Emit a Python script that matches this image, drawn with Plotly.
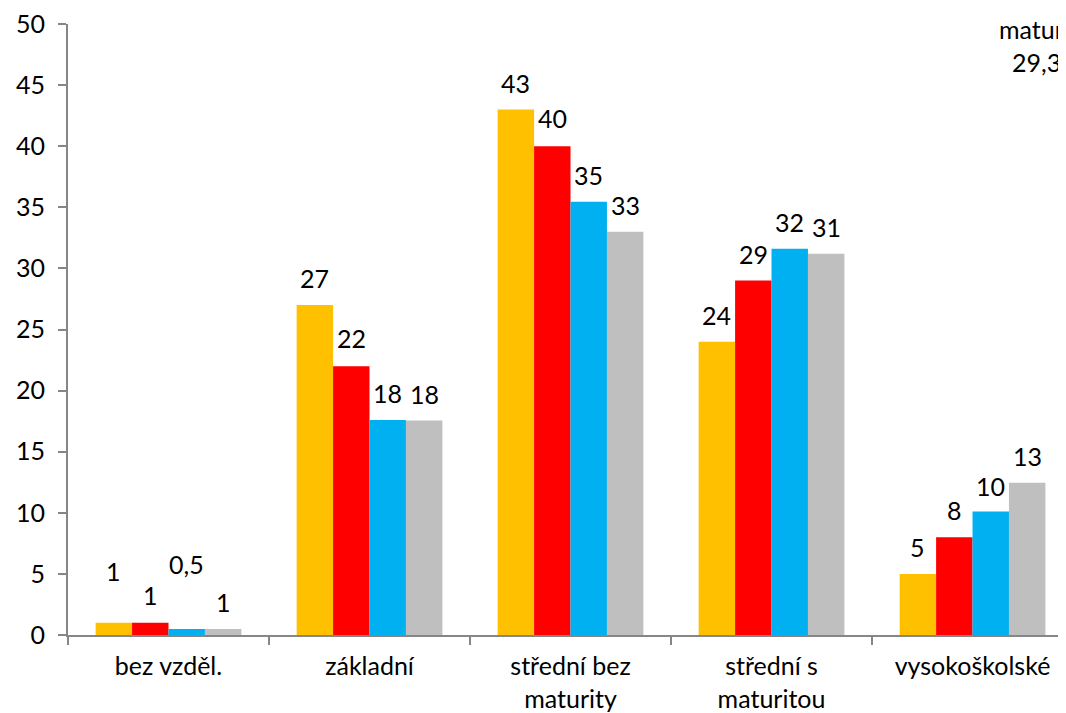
import plotly.graph_objects as go

categories = ["bez vzděl.", "základní", "střední bez<br>maturity", "střední s<br>maturitou", "vysokoškolské"]
series_names = ["řada 1", "řada 2", "řada 3", "řada 4"]
values = [
    [1.0, 27.0, 43.0, 24.0, 5.0],
    [1.0, 22.0, 40.0, 29.0, 8.0],
    [0.5, 17.6, 35.45, 31.6, 10.1],
    [0.5, 17.55, 33.0, 31.2, 12.45],
]
labels = [
    ["1", "27", "43", "24", "5"],
    ["1", "22", "40", "29", "8"],
    ["0,5", "18", "35", "32", "10"],
    ["1", "18", "33", "31", "13"],
]
colors = ["#FFC000", "#FF0000", "#00B0F0", "#BFBFBF"]

# label offsets above bar tops (px)
label_shift = [
    [52, 27, 27, 27, 27],
    [28, 28, 28, 27, 27],
    [65, 27, 27, 27, 26],
    [27, 27, 27, 27, 27],
]

FONT = "Lato, 'Open Sans', sans-serif"
FS = 25
AXIS_COLOR = "#868686"
bargap = 0.275

fig = go.Figure()
for j in range(4):
    fig.add_trace(go.Bar(
        x=categories, y=values[j], name=series_names[j],
        marker=dict(color=colors[j], line=dict(width=0)),
        showlegend=False,
    ))

bw = (1 - bargap) / 4
annotations = []
for j in range(4):
    for i in range(len(categories)):
        annotations.append(dict(
            x=i + (j - 1.5) * bw, y=values[j][i], xref="x", yref="y",
            text=labels[j][i], showarrow=False, yanchor="middle", xanchor="center",
            yshift=label_shift[j][i], font=dict(family=FONT, size=FS, color="#000000"),
        ))

annotations.append(dict(x=1, y=1, xref="paper", yref="paper", text="matur", showarrow=False,
                        xanchor="right", yanchor="middle", yshift=-5,
                        font=dict(family=FONT, size=FS, color="#000000")))
annotations.append(dict(x=1, y=1, xref="paper", yref="paper", text="29,3", showarrow=False,
                        xanchor="right", yanchor="middle", yshift=-38, xshift=-3,
                        font=dict(family=FONT, size=FS, color="#000000")))

# the page body has an 8px default margin, so the figure is sized 8px smaller
fig.update_layout(
    width=1058, height=705,
    margin=dict(l=60, r=0, t=14, b=78),
    paper_bgcolor="white", plot_bgcolor="white",
    barmode="group", bargap=bargap, bargroupgap=0,
    font=dict(family=FONT, size=FS, color="#000000"),
    annotations=annotations,
    xaxis=dict(
        type="category", range=[-0.5, 4.465],
        tickson="boundaries", ticks="outside", ticklen=8, tickwidth=2, tickcolor=AXIS_COLOR,
        showline=True, linecolor=AXIS_COLOR, linewidth=2,
        showgrid=False, zeroline=False, ticklabelstandoff=8,
        tickfont=dict(family=FONT, size=FS, color="#000000"),
    ),
    yaxis=dict(
        range=[0, 50], dtick=5, tick0=0,
        ticks="outside", ticklen=8, tickwidth=2, tickcolor=AXIS_COLOR,
        showline=True, linecolor=AXIS_COLOR, linewidth=2,
        showgrid=False, zeroline=False, ticklabelstandoff=8,
        ticklabeloverflow="allow",
        tickfont=dict(family=FONT, size=FS, color="#000000"),
    ),
)

fig.write_html("out.html")
